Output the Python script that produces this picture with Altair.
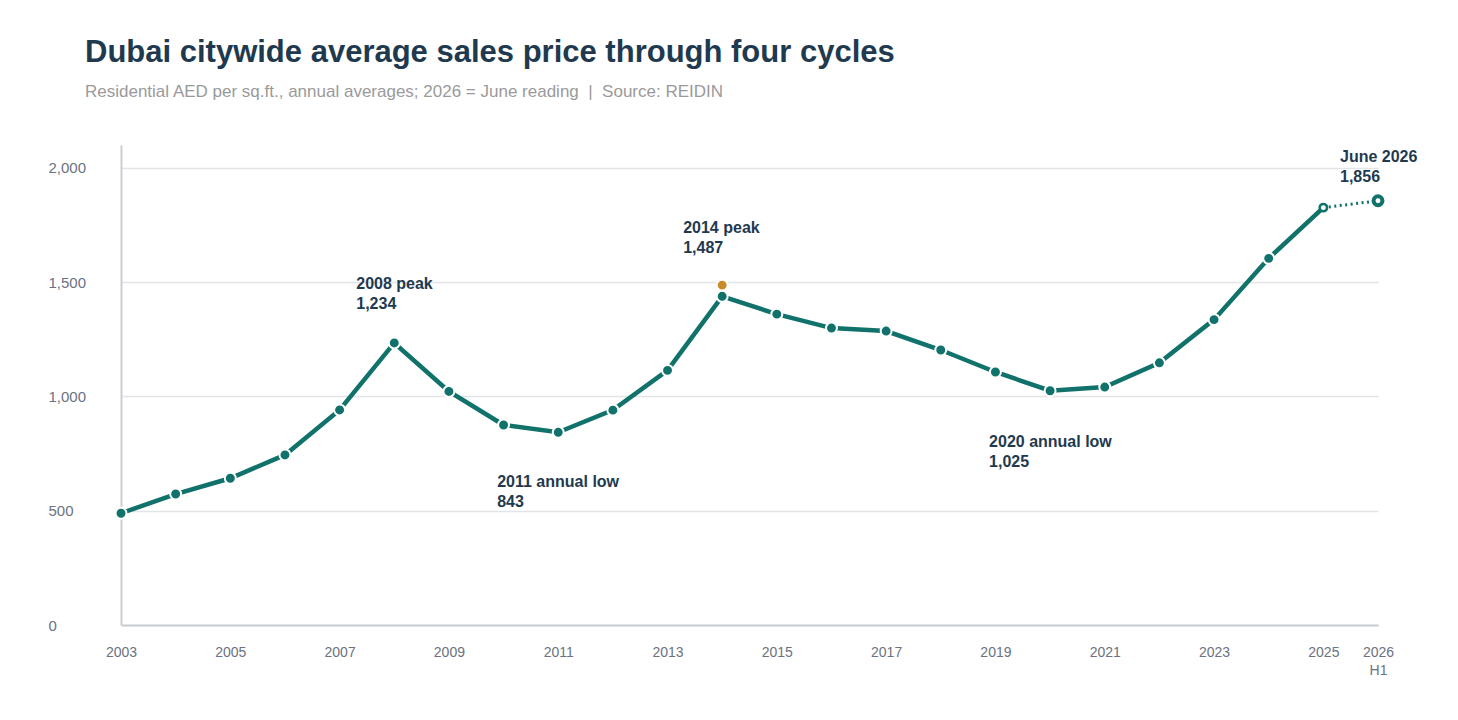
import altair as alt
import pandas as pd

# ---- data ----
years = list(range(2003, 2027))
prices = [489, 573, 642, 744, 941, 1234, 1022, 875, 843, 940, 1114, 1438,
          1360, 1299, 1286, 1203, 1107, 1025, 1041, 1147, 1336, 1604, 1826, 1856]
peak_year = [2014]
peak_value = [1487]

ann_names = ["2008 peak", "2011 annual low", "2014 peak", "2020 annual low", "June 2026"]
ann_years = [2008, 2011, 2014, 2020, 2026]
ann_values = [1234, 843, 1487, 1025, 1856]

x_ticks = [2003, 2005, 2007, 2009, 2011, 2013, 2015, 2017, 2019, 2021, 2023, 2025, 2026]
y_ticks = [0, 500, 1000, 1500, 2000]

# ---- styles ----
TEAL = "#10726a"
ORANGE = "#c98a2a"
NAVY = "#1f3a4f"
FONT = "Arial, Liberation Sans, sans-serif"

df = pd.DataFrame({"year": years, "price": prices})
annual = df[df.year <= 2025]
partial = df[df.year >= 2025]
dots = df[df.year <= 2024]
ring_small = df[df.year == 2025]
ring_big = df[df.year == 2026]
peak = pd.DataFrame({"year": peak_year, "price": peak_value})
ann = pd.DataFrame({
    "year": ann_years,
    "price": ann_values,
    "label": [f"{n}\n{v:,}" for n, v in zip(ann_names, ann_values)],
})

x = alt.X("year:Q",
          scale=alt.Scale(domain=[2003, 2026], nice=False, zero=False),
          axis=alt.Axis(values=x_ticks, format="d", title=None, grid=False,
                        ticks=False, tickSize=0, labelOverlap=False, labelFlush=False,
                        labelExpr="datum.value == 2026 ? ['2026', 'H1'] : datum.label",
                        labelLineHeight=18, labelBaseline="top",
                        labelPadding=20, labelFontSize=14, labelColor="#6b7280",
                        domainColor="#c9ced4", domainWidth=2))
y = alt.Y("price:Q",
          scale=alt.Scale(domain=[0, 2100], nice=False),
          axis=alt.Axis(values=y_ticks, format=",d", title=None, ticks=False, tickSize=0,
                        labelAlign="left", labelPadding=73, labelFontSize=15,
                        labelColor="#6b7280", gridColor="#e1e4e8", gridWidth=1.5,
                        domainColor="#c9ced4", domainWidth=2))

line = alt.Chart(annual).mark_line(color=TEAL, strokeWidth=4.5).encode(x=x, y=y)
dotted = alt.Chart(partial).mark_line(color=TEAL, strokeWidth=3, strokeDash=[2, 3.5]).encode(x=x, y=y)
pts = alt.Chart(dots).mark_circle(size=120, color=TEAL, stroke="white", strokeWidth=2, opacity=1).encode(x=x, y=y)
r1 = alt.Chart(ring_small).mark_point(shape="circle", filled=False, fill="white", stroke=TEAL,
                                     strokeWidth=2.5, size=55, opacity=1).encode(x=x, y=y)
r2 = alt.Chart(ring_big).mark_point(shape="circle", filled=False, fill="white", stroke=TEAL,
                                   strokeWidth=4, size=80, opacity=1).encode(x=x, y=y)
pk = alt.Chart(peak).mark_circle(size=120, color=ORANGE, stroke="white", strokeWidth=2, opacity=1).encode(x=x, y=y)

offsets = {2008: (-38, -67), 2011: (-61, 42), 2014: (-39, -65), 2020: (-61, 43), 2026: (-38, -52)}
ann_layers = []
for yr, (dx, dy) in offsets.items():
    ann_layers.append(
        alt.Chart(ann[ann.year == yr]).mark_text(
            align="left", baseline="top", dx=dx, dy=dy, fontSize=16, fontWeight="bold",
            color=NAVY, lineBreak="\n", lineHeight=20, font=FONT
        ).encode(x=x, y=y, text="label:N")
    )

NB = "\u00a0"
subtitle = ("Residential AED per sq.ft., annual averages; 2026 = June reading"
            + NB * 2 + "|" + NB * 2 + "Source: REIDIN")

chart = alt.layer(line, dotted, pts, r1, r2, pk, *ann_layers).properties(
    width=1257, height=480,
    view=alt.ViewBackground(strokeOpacity=0, strokeWidth=0),
    autosize=alt.AutoSizeParams(type="none"),
    padding={"left": 113, "top": 137, "right": 72, "bottom": 87},
    title=alt.Title(
        text="Dubai citywide average sales price through four cycles",
        subtitle=subtitle,
        anchor="start", frame="group", dx=-36, offset=44, fontSize=31, font=FONT,
        fontWeight="bold", color=NAVY, subtitleFont=FONT, subtitleFontSize=17,
        subtitleColor="#9a9a9a", subtitlePadding=15,
    ),
).configure_view(stroke="transparent", strokeWidth=0).configure(font=FONT)

chart.save("out.html", embed_options={"renderer": "svg", "actions": False})
